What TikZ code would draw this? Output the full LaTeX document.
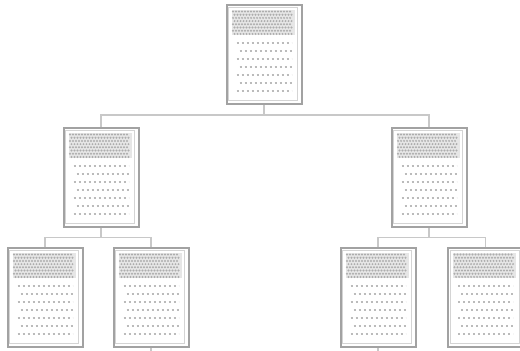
\documentclass[tikz,border=0pt]{standalone}
\definecolor{frame}{HTML}{A2A2A2}
\definecolor{frameinner}{HTML}{D4D4D4}
\definecolor{wire}{HTML}{C8C8C8}
\definecolor{textdot}{HTML}{BBBBBB}
\definecolor{headfill}{HTML}{E6E6E6}
\definecolor{headdot}{HTML}{ADADAD}
\tikzset{
  page/.style={draw=frame, line width=2pt, fill=white, rectangle,
    minimum width=75pt, minimum height=99pt, inner sep=0pt},
  wirestyle/.style={draw=wire, line width=1.6pt},
  textrow/.style={draw=textdot, line width=2.2pt, dash pattern=on 2pt off 3pt},
}
% one page: framed sheet with a dotted header block and dotted text rows
\newcommand\docpage[3]{%
  \node[page] (#1) at (#2,#3) {};
  \begin{scope}[shift={(#1.north west)}]
    \draw[frameinner, line width=0.9pt] (3,3) rectangle (72,96);
    \fill[headfill] (6,6) rectangle (69,31);
    \foreach \r in {0,...,7}{
      \pgfmathsetmacro{\off}{mod(\r,2)==0 ? 7.5 : 9}
      \foreach \c in {0,...,19}{
        \fill[headdot] (\off+3*\c, 7.5+3.2*\r) circle (1.1pt);
      }
    }
    \foreach \k in {0,...,6}{
      \pgfmathsetmacro{\xs}{mod(\k,2)==0 ? 11 : 14}
      \draw[textrow] (\xs,39+8*\k) -- (66,39+8*\k);
    }
  \end{scope}
}
\begin{document}
\begin{tikzpicture}[x=1pt, y=-1pt]
  \useasboundingbox (0,0) rectangle (520,351);
  \docpage{top}{264}{54.5}
  \docpage{ml}{101}{177.5}
  \docpage{mr}{429}{177.5}
  \docpage{bla}{45}{297.5}
  \docpage{blb}{151}{297.5}
  \docpage{bra}{378}{297.5}
  \docpage{brb}{485.5}{297.5}
  \coordinate (enda) at (151,352);
  \coordinate (endb) at (378,352);
  % tree connectors
  \draw[wirestyle] (top.south) -- ++(0,10) -| (ml.north);
  \draw[wirestyle] (top.south) -- ++(0,10) -| (mr.north);
  \draw[wirestyle] (ml.south) -- ++(0,9.5) -| (bla.north);
  \draw[wirestyle] (ml.south) -- ++(0,9.5) -| (blb.north);
  \draw[wirestyle] (mr.south) -- ++(0,9.5) -| (bra.north);
  \draw[wirestyle] (mr.south) -- ++(0,9.5) -| (brb.north);
  \draw[wirestyle] (blb.south) -- (enda);
  \draw[wirestyle] (bra.south) -- (endb);
\end{tikzpicture}
\end{document}
